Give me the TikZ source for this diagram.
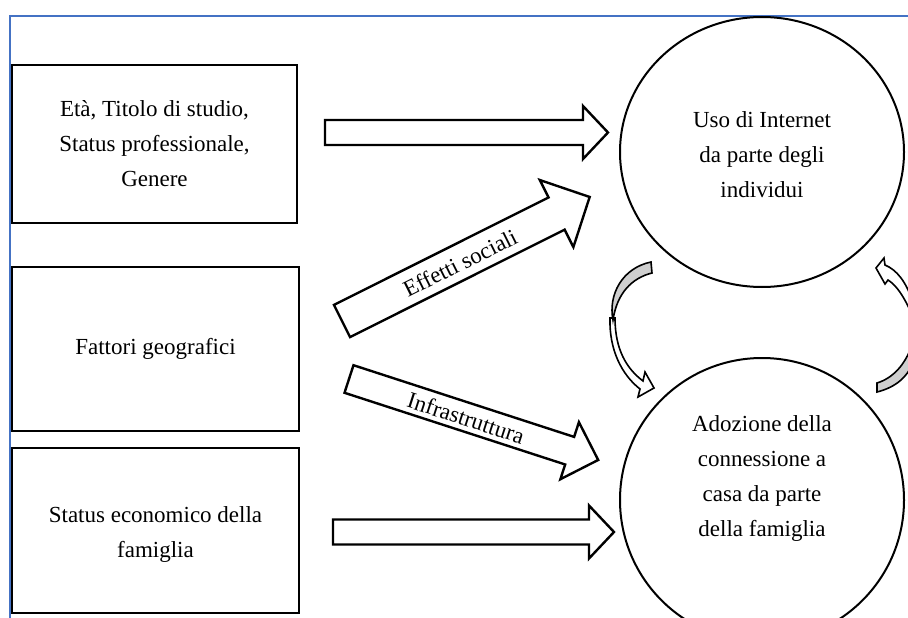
\documentclass[tikz,border=0pt]{standalone}
\usepackage{fontspec}
\setmainfont{Liberation Serif}
\usetikzlibrary{shapes.geometric}
\definecolor{frameblue}{HTML}{4472C4}
\definecolor{backgray}{HTML}{CFCFCF}
\newcommand\blkarrow[6]{%
  \draw[blkarrow, shift={#1}, rotate=#2] (0,-#4) -- ({#3-#6},-#4) -- ({#3-#6},-#5) -- (#3,0) -- ({#3-#6},#5) -- ({#3-#6},#4) -- (0,#4) -- cycle;}
\begin{document}
\begin{tikzpicture}[x=1pt,y=-1pt,
  txt/.style={font=\fontsize{23}{35}\selectfont, align=center, inner sep=0pt},
  box/.style={draw, line width=2.6pt, minimum width=#1, inner sep=0pt},
  circ/.style={draw, ellipse, line width=2pt, inner sep=0pt},
  blkarrow/.style={draw, line width=2.4pt, fill=white, line join=miter},
  curvarrow/.style={draw, line width=1.6pt, fill=white, line join=miter},
  curvback/.style={draw, line width=1.6pt, fill=backgray, line join=miter}]
\useasboundingbox (0,0) rectangle (908,618);
% frame
\draw[frameblue, line width=2pt] (10,618) -- (10,16) -- (908,16);
% boxes
\node[box=285pt, minimum height=158pt] (b1) at (154.5,144) {};
\node[box=287pt, minimum height=164pt] (b2) at (155.5,349) {};
\node[box=287pt, minimum height=165pt] (b3) at (155.5,530.5) {};
\node[txt] (t1) at (b1.center) {Età, Titolo di studio,\\Status professionale,\\Genere};
\node[txt] (t2) at (b2.center) {Fattori geografici};
\node[txt] (t3) at (155.5,534) {Status economico della\\famiglia};
% circles
\node[circ, minimum width=284pt, minimum height=270pt] (c1) at (762,152) {};
\node[circ, minimum width=284pt, minimum height=284pt] (c2) at (762,500) {};
\node[txt] (ct1) at (762,155) {Uso di Internet\\da parte degli\\individui};
\node[txt] (ct2) at (762,478) {Adozione della\\connessione a\\casa da parte\\della famiglia};
% block arrows
\blkarrow{(325,132.5)}{0}{283}{12.5}{26.5}{25}
\blkarrow{(333,532)}{0}{281}{12.5}{26.5}{25}
\blkarrow{(342,321)}{26.6}{277}{18}{37.5}{37}
\blkarrow{(349,379)}{-18}{262}{14.5}{30}{30}
\node[txt, rotate=26.6] (es) at (460,263) {Effetti sociali};
\node[txt, rotate=-18] (inf) at (466,418) {Infrastruttura};
% left curved arrow
\path[curvarrow] (610,318) .. controls (609,350) and (622,375) .. (640,389) -- (638,397) -- (654,388) -- (645,372) -- (643,381) .. controls (627,369) and (615,350) .. (615,318) -- cycle;
\path[curvback] (651,262) -- (652,273) .. controls (632,278) and (617,293) .. (613,320) .. controls (608,295) and (622,268) .. (651,262) -- cycle;
% right curved arrow
\path[curvarrow] (885,265) .. controls (897,270) and (906,282) .. (912,300) -- (912,315) .. controls (904,296) and (896,285) .. (888,280) -- (885,284) -- (876,268) -- (884,258) -- cycle;
\path[curvback] (877,383) -- (877,392) .. controls (897,387) and (907,376) .. (912,365) -- (912,345) .. controls (905,365) and (893,378) .. (877,383) -- cycle;
\end{tikzpicture}
\end{document}
